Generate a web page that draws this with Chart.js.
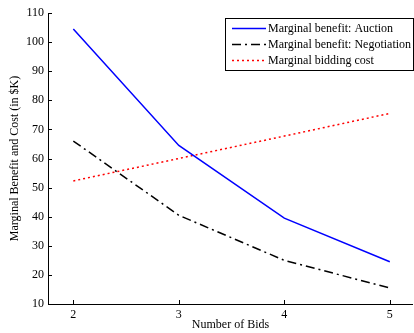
<!DOCTYPE html>
<html><head><meta charset="utf-8">
<script src="https://cdn.jsdelivr.net/npm/chart.js@4"></script>
<style>html,body{margin:0;padding:0;background:#fff;}#wrap{width:414px;height:333px;position:relative;}</style>
</head><body><div id="wrap"><canvas id="c" width="414" height="333"></canvas></div>
<script>
const bids = [2, 3, 4, 5];
const auction = [104.5, 64.5, 39.5, 24.5];
const negotiation = [66, 40.5, 25, 15.5];
const biddingCost = [52.3, 60, 67.7, 75.5];
const yTicks = [10, 20, 30, 40, 50, 60, 70, 80, 90, 100, 110];
const seriesNames = ['Marginal benefit: Auction', 'Marginal benefit: Negotiation', 'Marginal bidding cost'];

const FONT = '"Liberation Serif", "Times New Roman", serif';
const pts = arr => bids.map((b, i) => ({x: b, y: arr[i]}));

const inwardTicks = {
  id: 'inwardTicks',
  afterDatasetsDraw(chart) {
    const {ctx, chartArea: a, scales: {x, y}} = chart;
    ctx.save();
    ctx.strokeStyle = '#000'; ctx.lineWidth = 1;
    ctx.beginPath();
    ctx.moveTo(a.left + 0.5, a.top); ctx.lineTo(a.left + 0.5, a.bottom + 0.5);
    ctx.lineTo(a.right, a.bottom + 0.5);
    yTicks.forEach(v => { const p = Math.round(y.getPixelForValue(v)) + 0.5; ctx.moveTo(a.left, p); ctx.lineTo(a.left + 4, p); });
    bids.forEach(v => { const p = Math.round(x.getPixelForValue(v)) + 0.5; ctx.moveTo(p, a.bottom); ctx.lineTo(p, a.bottom - 4); });
    ctx.stroke();
    const bx = 225.5, by = 18.5, bw = 188, bh = 52;
    ctx.fillStyle = '#fff'; ctx.fillRect(bx, by, bw, bh);
    ctx.strokeRect(bx, by, bw, bh);
    ctx.font = '12px ' + FONT; ctx.textBaseline = 'middle'; ctx.fillStyle = '#000';
    chart.data.datasets.forEach((ds, i) => {
      const ly = 28.5 + i * 16;
      ctx.save();
      ctx.strokeStyle = ds.borderColor; ctx.lineWidth = ds.borderWidth;
      ctx.setLineDash(ds.borderDash || []);
      ctx.beginPath(); ctx.moveTo(232, ly); ctx.lineTo(266, ly); ctx.stroke();
      ctx.restore();
      ctx.fillText(seriesNames[i], 268, ly + 0.5);
    });
    ctx.restore();
  }
};

new Chart(document.getElementById('c'), {
  type: 'scatter',
  data: {
    datasets: [
      {label: seriesNames[0], data: pts(auction), showLine: true, borderColor: '#0000ff', borderWidth: 1.5, pointRadius: 0, tension: 0},
      {label: seriesNames[1], data: pts(negotiation), showLine: true, borderColor: '#000000', borderWidth: 1.5, borderDash: [9, 4, 2, 4], pointRadius: 0, tension: 0},
      {label: seriesNames[2], data: pts(biddingCost), showLine: true, borderColor: '#ff0000', borderWidth: 1.5, borderDash: [2, 3], pointRadius: 0, tension: 0}
    ]
  },
  options: {
    responsive: false, animation: false, events: [],
    layout: {padding: {left: 0, top: 13, right: 1, bottom: 0}},
    plugins: {legend: {display: false}, tooltip: {enabled: false}},
    scales: {
      x: {
        type: 'linear', min: 1.76, max: 5.22,
        afterBuildTicks: s => { s.ticks = bids.map(v => ({value: v})); },
        afterFit: s => { s.height = 29; },
        grid: {display: false, drawTicks: false},
        border: {display: false},
        ticks: {color: '#000', font: {family: FONT, size: 12}, padding: 4},
        title: {display: true, text: 'Number of Bids', color: '#000', font: {family: FONT, size: 12}, padding: {top: 0, bottom: 1}}
      },
      y: {
        min: 10, max: 110,
        afterBuildTicks: s => { s.ticks = yTicks.map(v => ({value: v})); },
        afterFit: s => { s.width = 48; },
        grid: {display: false, drawTicks: false},
        border: {display: false},
        ticks: {color: '#000', font: {family: FONT, size: 12}, padding: 4},
        title: {display: true, text: 'Marginal Benefit and Cost (in $K)', color: '#000', font: {family: FONT, size: 12}, padding: {top: 8, bottom: 0}}
      }
    }
  },
  plugins: [inwardTicks]
});
</script></body></html>
